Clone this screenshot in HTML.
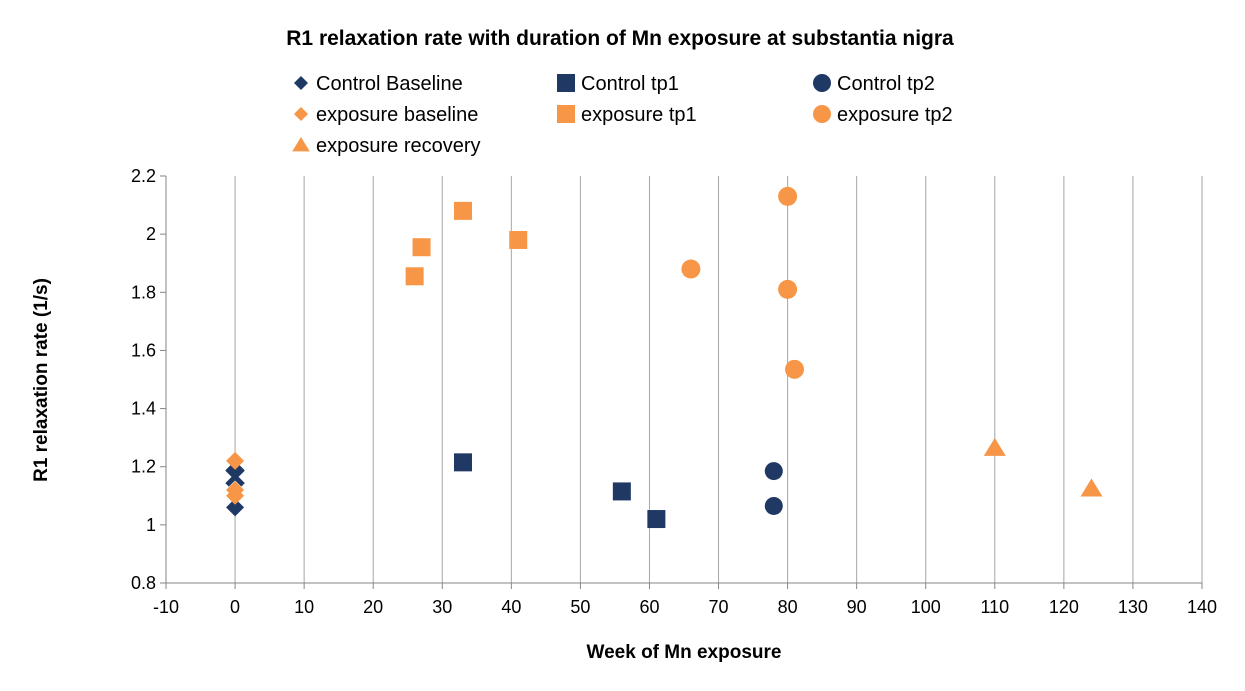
<!DOCTYPE html>
<html><head><meta charset="utf-8"><style>
body{margin:0;background:#fff;}
svg{display:block;font-family:"Liberation Sans",sans-serif;}
</style></head><body>
<svg id="chart" width="1245" height="691">
<text x="620" y="45" text-anchor="middle" font-size="21" font-weight="bold" fill="#000">R1 relaxation rate with duration of Mn exposure at substantia nigra</text>
<g id="grid"></g><g id="axes"></g><g id="marks"></g><g id="legend"></g>
<text x="684" y="658" text-anchor="middle" font-size="19" font-weight="bold">Week of Mn exposure</text>
<text transform="translate(47,380) rotate(-90)" text-anchor="middle" font-size="19" font-weight="bold">R1 relaxation rate (1/s)</text>
</svg>
<script>
const xTicks=[-10,0,10,20,30,40,50,60,70,80,90,100,110,120,130,140];
const yTicks=[0.8,1,1.2,1.4,1.6,1.8,2,2.2];
const ctrlBaseX=[0,0];const ctrlBaseY=[1.06,1.19];
const xMarkX=[0];const xMarkY=[1.165];
const expBaseX=[0,0,0];const expBaseY=[1.22,1.12,1.10];
const ctrlTp1X=[33,56,61];const ctrlTp1Y=[1.215,1.115,1.02];
const ctrlTp2X=[78,78];const ctrlTp2Y=[1.185,1.065];
const expTp1X=[26,27,33,41];const expTp1Y=[1.855,1.955,2.08,1.98];
const expTp2X=[66,80,80,81];const expTp2Y=[1.88,2.13,1.81,1.535];
const expRecX=[110,124];const expRecY=[1.265,1.125];
const NAVY="#1f3864",OR="#f79646";
const X0=166,X1=1202,Y0=583,Y1=176;
const sx=v=>X0+(v+10)/150*(X1-X0);
const sy=v=>Y0-(v-0.8)/1.4*(Y0-Y1);
const NS="http://www.w3.org/2000/svg";
function mk(parent,tag,attrs){const e=document.createElementNS(NS,tag);for(const k in attrs)e.setAttribute(k,attrs[k]);document.getElementById(parent).appendChild(e);return e;}
xTicks.forEach(t=>{
 if(t>-10){const l=mk('grid','line',{x1:sx(t),x2:sx(t),y1:Y1,y2:Y0,stroke:'#a6a6a6'});
 
 }
 const k=mk('axes','line',{x1:sx(t),x2:sx(t),y1:Y0,y2:Y0+6,stroke:'#868686'});
 
 
 const tx=mk('axes','text',{x:sx(t),y:Y0+30,'text-anchor':'middle','font-size':18});tx.textContent=t;
 
 
});
yTicks.forEach(t=>{
 const k=mk('axes','line',{x1:X0-6,x2:X0,y1:sy(t),y2:sy(t),stroke:'#868686'});
 
 
 const tx=mk('axes','text',{x:X0-10,y:sy(t)+6,'text-anchor':'end','font-size':18});tx.textContent=t;
 
 
});
const ax=mk('axes','path',{d:`M${X0},${Y1}V${Y0}H${X1}`,fill:'none',stroke:'#868686'});


function marker(g,shape,cx,cy,col,s){
 let e;
 if(shape==='diamond')e=mk(g,'path',{d:`M${cx},${cy-s}L${cx+s},${cy}L${cx},${cy+s}L${cx-s},${cy}Z`,fill:col});
 else if(shape==='square')e=mk(g,'rect',{x:cx-s,y:cy-s,width:2*s,height:2*s,fill:col});
 else if(shape==='circle')e=mk(g,'circle',{cx:cx,cy:cy,r:s,fill:col});
 else if(shape==='triangle')e=mk(g,'path',{d:`M${cx},${cy-s}L${cx+s*1.1},${cy+s*0.8}L${cx-s*1.1},${cy+s*0.8}Z`,fill:col});
 else e=mk(g,'path',{d:`M${cx-s},${cy-s}L${cx+s},${cy+s}M${cx+s},${cy-s}L${cx-s},${cy+s}`,stroke:col,'stroke-width':5});
 return e;
}
const series=[
 [ctrlBaseX,ctrlBaseY,'diamond',NAVY,9,'control-baseline-point'],
 [xMarkX,xMarkY,'x',NAVY,8,'x-marker-point'],
 [expBaseX,expBaseY,'diamond',OR,9,'exposure-baseline-point'],
 [ctrlTp1X,ctrlTp1Y,'square',NAVY,9,'control-tp1-point'],
 [ctrlTp2X,ctrlTp2Y,'circle',NAVY,9,'control-tp2-point'],
 [expTp1X,expTp1Y,'square',OR,9,'exposure-tp1-point'],
 [expTp2X,expTp2Y,'circle',OR,9.5,'exposure-tp2-point'],
 [expRecX,expRecY,'triangle',OR,10,'exposure-recovery-point']];
series.forEach(s=>s[0].forEach((x,i)=>{
 const e=marker('marks',s[2],sx(x),sy(s[1][i]),s[3],s[4]);
 
 
}));
const leg=[['diamond',NAVY,7,'Control Baseline',301,83],['square',NAVY,9,'Control tp1',566,83],['circle',NAVY,9,'Control tp2',822,83],
 ['diamond',OR,7,'exposure baseline',301,114],['square',OR,9,'exposure tp1',566,114],['circle',OR,9,'exposure tp2',822,114],
 ['triangle',OR,8,'exposure recovery',301,145]];
leg.forEach(l=>{
 const m=marker('legend',l[0],l[4],l[5],l[1],l[2]);
 
 
 const t=mk('legend','text',{x:l[4]+15,y:l[5]+7,'font-size':20});t.textContent=l[3];
 
 
});
</script>
</body></html>
